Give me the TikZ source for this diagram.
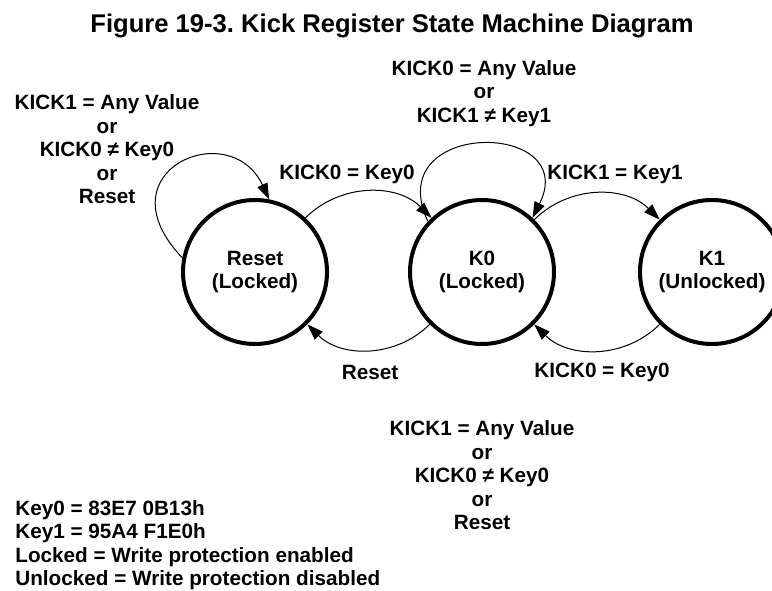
\documentclass[tikz,border=0pt]{standalone}
\usepackage{fontspec}
\setmainfont{Liberation Sans}
\usetikzlibrary{arrows.meta}
\frenchspacing
\begin{document}
\begin{tikzpicture}[x=0.5pt,y=0.5pt,font=\fontsize{10.35}{11.75}\selectfont\bfseries,
  state/.style={circle,draw,line width=2pt,minimum size=72pt,inner sep=0pt,align=center},
  lbl/.style={inner sep=0pt,align=center},
  trans/.style={line width=0.5pt,-{Triangle[length=8pt,width=5.5pt]}}]
\useasboundingbox (0,0) rectangle (772,590);
\node[font=\fontsize{12.8}{15}\selectfont\bfseries,anchor=base] (title) at (392,557) {Figure 19-3. Kick Register State Machine Diagram};
% states
\node[state] (reset) at (255,318) {Reset\\(Locked)};
\node[state] (k0) at (482,318) {K0\\(Locked)};
\node[state] (k1) at (712,318) {K1\\(Unlocked)};
% transitions
\draw[trans] (reset.169) .. controls +(-83,87) and +(-39,84) .. (reset.79);
\draw[trans] (reset.47) to[bend left=45] (k0.133);
\draw[trans] (k0.137) .. controls +(-48,103) and +(49,98) .. (k0.47);
\draw[trans] (k0.45) to[bend left=45] (k1.135);
\draw[trans] (k1.225) to[bend left=45] (k0.-45);
\draw[trans] (k0.225) to[bend left=45] (reset.-45);
% conditions
\node[lbl] (cresetloop) at (107,440.5) {KICK1 = Any Value\\or\\KICK0 ≠ Key0\\or\\Reset};
\node[lbl] (ck0) at (347,415.8) {KICK0 = Key0};
\node[lbl] (ck0loop) at (484,496.8) {KICK0 = Any Value\\or\\KICK1 ≠ Key1};
\node[lbl] (ck1) at (615,415.8) {KICK1 = Key1};
\node[lbl] (creset) at (370,218) {Reset};
\node[lbl] (cback) at (602,217.8) {KICK0 = Key0};
\node[lbl] (cany) at (482,114.5) {KICK1 = Any Value\\or\\KICK0 ≠ Key0\\or\\Reset};
% legend
\node[inner sep=0pt,align=left,anchor=north west] (legend) at (15,90) {Key0 = 83E7 0B13h\\Key1 = 95A4 F1E0h\\Locked = Write protection enabled\\Unlocked = Write protection disabled};
\end{tikzpicture}
\end{document}
